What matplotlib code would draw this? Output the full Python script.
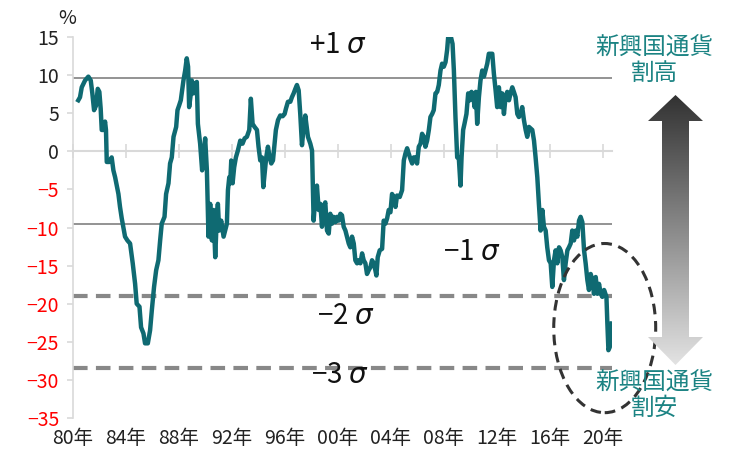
import matplotlib
matplotlib.use('Agg')
import matplotlib.pyplot as plt
import numpy as np
from matplotlib.patches import Ellipse, Polygon
from matplotlib.colors import LinearSegmentedColormap

plt.rcParams['font.family'] = ['Noto Sans CJK JP', 'DejaVu Sans']
plt.rcParams['mathtext.fontset'] = 'custom'
plt.rcParams['mathtext.it'] = 'DejaVu Sans:italic'

# 乖離率（%）, 読み取り値
years = [1980.40, 1980.53, 1980.66, 1980.91, 1981.16, 1981.34, 1981.46, 1981.59, 1981.74, 1981.87,
         1981.99, 1982.09, 1982.17, 1982.29, 1982.42, 1982.49, 1982.55, 1982.75, 1982.92, 1983.05,
         1983.18, 1983.43, 1983.55, 1983.68, 1983.93, 1984.11, 1984.31, 1984.51, 1984.69, 1984.81,
         1985.02, 1985.14, 1985.32, 1985.44, 1985.65, 1985.82, 1985.95, 1986.12, 1986.28, 1986.45,
         1986.58, 1986.70, 1986.91, 1987.03, 1987.21, 1987.33, 1987.46, 1987.59, 1987.79, 1987.89,
         1988.01, 1988.14, 1988.34, 1988.47, 1988.59, 1988.69, 1988.77, 1988.90, 1988.97, 1989.10,
         1989.22, 1989.35, 1989.43, 1989.60, 1989.75, 1989.85, 1989.98,
         1990.11, 1990.23, 1990.36, 1990.49, 1990.61, 1990.74, 1990.86, 1990.94, 1991.04, 1991.19,
         1991.37, 1991.49, 1991.62, 1991.70, 1991.80, 1991.87, 1991.95, 1992.05, 1992.17, 1992.30,
         1992.45, 1992.63, 1992.80, 1992.96, 1993.13, 1993.31, 1993.43, 1993.56, 1993.71, 1993.89,
         1994.01, 1994.14, 1994.27, 1994.37, 1994.47, 1994.59, 1994.72, 1994.85, 1994.97, 1995.10,
         1995.20, 1995.32, 1995.48, 1995.65, 1995.83, 1995.98, 1996.08, 1996.23, 1996.41, 1996.53,
         1996.66, 1996.79, 1996.91, 1997.04, 1997.16, 1997.29, 1997.42, 1997.54, 1997.62, 1997.74,
         1997.92, 1998.05, 1998.17, 1998.30, 1998.42, 1998.55, 1998.68, 1998.80, 1998.93, 1999.05,
         1999.18, 1999.31, 1999.43, 1999.56, 1999.68, 1999.81, 1999.94, 2000.06, 2000.19,
         2000.31, 2000.44, 2000.57, 2000.69, 2000.82, 2000.94, 2001.07, 2001.20, 2001.32, 2001.45,
         2001.57, 2001.70, 2001.83, 2001.95, 2002.08, 2002.20, 2002.33, 2002.46, 2002.58, 2002.71,
         2002.83, 2002.91, 2003.01, 2003.16, 2003.34, 2003.46, 2003.59, 2003.72, 2003.84, 2003.97,
         2004.09, 2004.22, 2004.35, 2004.47, 2004.67, 2004.85, 2004.98, 2005.10, 2005.23, 2005.35,
         2005.48, 2005.61, 2005.73, 2005.86, 2005.98, 2006.11, 2006.24, 2006.36, 2006.49, 2006.61,
         2006.74, 2006.87, 2006.99, 2007.12, 2007.24, 2007.37, 2007.50, 2007.62, 2007.75, 2007.87,
         2008.00, 2008.13, 2008.25, 2008.33, 2008.51, 2008.66, 2008.76, 2008.88, 2009.01, 2009.13,
         2009.26, 2009.34, 2009.46, 2009.56, 2009.71, 2009.84, 2009.97, 2010.09, 2010.22, 2010.32,
         2010.42, 2010.52,
         2010.65, 2010.77, 2010.90, 2011.03, 2011.15, 2011.28, 2011.40, 2011.66, 2011.78, 2011.91,
         2012.03, 2012.16, 2012.29, 2012.41, 2012.54, 2012.66, 2012.79, 2012.92, 2013.04, 2013.17,
         2013.29, 2013.42, 2013.55, 2013.67, 2013.80, 2013.92, 2014.05, 2014.18, 2014.30, 2014.43,
         2014.68, 2014.81, 2014.93, 2015.06, 2015.18, 2015.31, 2015.44, 2015.56, 2015.69, 2015.81,
         2015.94, 2016.07, 2016.19, 2016.32, 2016.44, 2016.57, 2016.70, 2016.82, 2016.95, 2017.07,
         2017.20, 2017.33, 2017.45, 2017.58, 2017.70, 2017.83, 2017.96, 2018.08, 2018.21, 2018.33,
         2018.46, 2018.59, 2018.71, 2018.84, 2018.96, 2019.09, 2019.22, 2019.34, 2019.47, 2019.60,
         2019.72, 2019.85, 2019.97, 2020.10, 2020.28, 2020.35, 2020.43, 2020.53, 2020.60, 2020.68]
values = [6.7, 7.1, 8.4, 9.3, 9.8, 9.3, 7.6, 5.4, 6.0, 8.2,
          7.8, 5.6, 2.8, 2.8, 3.9, 2.8, -1.4, -1.4, -0.8, -2.5,
          -3.4, -5.6, -7.3, -8.8, -11.2, -11.7, -12.1, -14.7, -17.4, -20.0,
          -20.4, -23.1, -23.9, -25.2, -25.2, -23.5, -20.9, -17.8, -15.6, -14.3,
          -11.7, -9.5, -8.6, -5.6, -4.2, -1.6, -0.8, 1.9, 3.2, 5.4,
          6.0, 6.7, 9.3, 10.6, 12.2, 11.1, 5.8, 7.6, 9.3, 7.6,
          8.9, 9.1, 3.6, 1.0, -2.5, -0.8, 1.7,
          -2.5, -11.2, -6.9, -11.7, -7.7, -13.9, -8.6, -6.9, -10.4, -9.1,
          -11.2, -10.4, -9.5, -5.1, -3.4, -4.2, -1.2, -4.2, -2.1, -0.8,
          0.1, 1.4, 1.0, 1.7, 1.9, 2.8, 6.9, 3.6, 3.2, 2.8,
          0.6, -1.2, -0.8, -4.7, -2.9, -0.8, 0.6, -0.8, -1.6, -1.2,
          0.6, 2.8, 4.1, 4.7, 4.6, 4.9, 5.6, 6.5, 6.5, 7.1,
          7.6, 8.2, 8.7, 8.0, 4.9, 0.8, 3.2, 4.7, 3.6, 1.9,
          1.0, 0.1, -9.1, -6.0, -4.5, -7.7, -6.9, -9.9, -7.3, -6.7,
          -10.4, -10.8, -8.2, -9.5, -8.6, -9.3, -8.6, -9.1, -8.2,
          -8.4, -9.9, -10.4, -11.2, -12.1, -12.6, -11.2, -12.1, -14.3, -14.7,
          -14.3, -14.7, -13.4, -14.3, -14.7, -16.1, -15.6, -15.2, -14.3, -14.7,
          -15.6, -16.3, -13.9, -13.0, -12.8, -9.1, -9.5, -8.8, -7.7, -8.0,
          -5.6, -6.0, -7.3, -5.8, -6.0, -5.1, -1.2, -0.3, 0.4, -0.3,
          -1.0, -1.6, -0.8, -0.8, -1.6, 0.6, 1.0, 2.3, 1.9, 0.6,
          1.4, 2.8, 4.5, 4.9, 5.4, 7.6, 7.8, 8.7, 10.6, 11.5,
          11.1, 11.7, 13.3, 15.0, 15.2, 14.1, 10.6, 4.5, -0.8, -0.8,
          -4.5, -0.8, 2.8, 3.6, 4.9, 7.6, 6.7, 7.8, 7.4, 5.8,
          7.8, 3.6,
          7.1, 9.3, 10.6, 9.8, 10.6, 11.5, 12.8, 12.8, 10.2, 8.0,
          5.8, 8.4, 5.8, 7.6, 4.9, 7.1, 7.8, 6.7, 7.6, 8.4,
          7.8, 7.1, 4.9, 4.5, 4.9, 5.8, 4.1, 2.8, 1.9, 3.2,
          2.8, 1.4, -0.8, -3.4, -6.9, -10.4, -7.7, -9.9, -10.4, -12.6,
          -14.3, -14.7, -17.8, -14.3, -13.0, -14.7, -12.6, -13.0, -13.9, -16.9,
          -14.7, -13.0, -12.6, -12.1, -10.4, -11.7, -10.4, -11.2, -9.1, -8.6,
          -9.3, -13.0, -14.7, -16.9, -18.2, -16.1, -16.9, -18.7, -16.5, -18.7,
          -17.4, -18.7, -19.1, -18.2, -19.1, -22.6, -26.1, -25.7, -24.4, -22.6]

sigma_solid = [9.6, -9.5]      # +1σ, -1σ
sigma_dashed = [-19.0, -28.5]  # -2σ, -3σ
x_ticks = [1980, 1984, 1988, 1992, 1996, 2000, 2004, 2008, 2012, 2016, 2020]
x_labels = ['80年', '84年', '88年', '92年', '96年', '00年', '04年', '08年', '12年', '16年', '20年']
y_ticks = [15, 10, 5, 0, -5, -10, -15, -20, -25, -30, -35]

line_c = '#0f6a72'
teal = '#1b8383'
grid_c = '#d9d9d9'

fig = plt.figure(figsize=(7.29, 4.54), dpi=100)
ax = fig.add_axes([73/729, 1-418/454, (612-73)/729, (418-37)/454])

for v in sigma_solid:
    ax.axhline(v, color='#808080', lw=1.2, zorder=1)
for v in sigma_dashed:
    ax.axhline(v, color='#888888', lw=3, dashes=(3.5, 2), zorder=1)

ax.plot(years, values, color=line_c, lw=3.2, solid_joinstyle='round', zorder=3)

ax.set_xlim(1980, 2020.7)
ax.set_ylim(-35, 15)

# zero axis with crossing ticks
ax.spines['bottom'].set_position(('data', 0))
ax.spines['bottom'].set_color(grid_c)
ax.spines['bottom'].set_linewidth(1.5)
ax.spines['left'].set_color(grid_c)
ax.spines['left'].set_linewidth(1.2)
ax.spines['top'].set_visible(False)
ax.spines['right'].set_visible(False)
ax.set_xticks(x_ticks)
ax.tick_params(axis='x', direction='inout', length=10, width=1.2, color=grid_c, labelbottom=False)
ax.set_yticks(y_ticks)
ax.set_yticklabels([str(t).replace('-', '\u2212') for t in y_ticks])
ax.tick_params(axis='y', direction='out', length=4, width=1.2, color=grid_c, labelsize=14, pad=6)
for lab, t in zip(ax.get_yticklabels(), y_ticks):
    lab.set_color('#ff0000' if t < 0 else '#222222')

sec = ax.secondary_xaxis('bottom')
sec.set_xticks(x_ticks, x_labels)
sec.tick_params(length=0, labelsize=14, pad=7, labelcolor='#222222')
sec.spines['bottom'].set_visible(False)

fig.text(67/729, 1-18/454, '%', ha='center', va='center', fontsize=14, color='#222222')

# sigma labels
ax.text(2000.0, 13.9, r'+1 $\sigma$', ha='center', va='center', fontsize=20, color='#111111')
ax.text(2010.1, -13.2, '\u22121 $\\sigma$', ha='center', va='center', fontsize=20, color='#111111')
ax.text(2000.6, -21.6, '\u22122 $\\sigma$', ha='center', va='center', fontsize=20, color='#111111')
ax.text(2000.1, -29.4, '\u22123 $\\sigma$', ha='center', va='center', fontsize=20, color='#111111')

# dashed ellipse
ell = Ellipse((2020.15, -23.2), 7.7, 22.2, fill=False, ec='#333333', lw=2.2,
              ls=(0, (3.5, 2.2)), clip_on=False, zorder=4)
ax.add_patch(ell)

# gradient double arrow
aax = fig.add_axes([645/729, 1-367/454, 61/729, 274/454])
aax.set_xlim(645, 706)
aax.set_ylim(367, 93)
aax.axis('off')
verts = [(675.5, 95), (703, 121), (689, 121), (689, 337), (703, 337), (675.5, 365),
         (648, 337), (662, 337), (662, 121), (648, 121)]
poly = Polygon(verts, closed=True, fc='none', ec='none')
aax.add_patch(poly)
cmap = LinearSegmentedColormap.from_list('g', ['#303030', '#e4e4e4'])
grad = np.linspace(0, 1, 256).reshape(-1, 1)
im = aax.imshow(grad, cmap=cmap, extent=[645, 706, 367, 93], aspect='auto', origin='upper')
im.set_clip_path(poly)

fig.text(654/729, 1-61/454, '新興国通貨\n割高', ha='center', va='center', fontsize=17,
         color=teal, linespacing=1.1)
fig.text(654/729, 1-396/454, '新興国通貨\n割安', ha='center', va='center', fontsize=17,
         color=teal, linespacing=1.1)

fig.savefig('out.png', dpi=100)
